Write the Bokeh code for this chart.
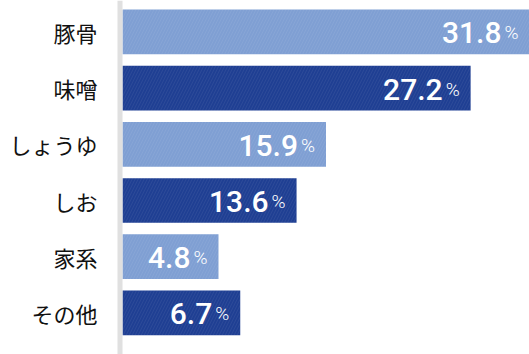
from bokeh.plotting import figure
from bokeh.models import Range1d, Span, ColumnDataSource
from bokeh.core.properties import value
from bokeh.embed import file_html
from bokeh.resources import INLINE

categories = ["豚骨", "味噌", "しょうゆ", "しお", "家系", "その他"]
values = [31.8, 27.2, 15.9, 13.6, 4.8, 6.7]
# bar lengths as drawn in the reference (small bars are widened to fit their labels)
drawn_len = [31.8, 27.2, 15.9, 13.6, 7.5, 9.2]
colors = ["#7f9fd3", "#1f3f93", "#7f9fd3", "#1f3f93", "#7f9fd3", "#1f3f93"]

W, H = 529, 354
left_px = 122
k = max(drawn_len) / (W - left_px)       # data units per pixel (x)
pitch = 56.2                              # pixels per category (y)
top_off = 31.4

p = figure(width=W, height=H, output_backend="svg", toolbar_location=None,
           min_border=0, x_range=Range1d(-left_px * k, max(drawn_len)),
           y_range=Range1d((H - top_off) / pitch, -top_off / pitch))
p.axis.visible = False
p.grid.visible = False
p.outline_line_color = None
p.background_fill_color = "white"
p.border_fill_color = "white"

idx = list(range(len(categories)))
src = ColumnDataSource(dict(
    y=idx, right=drawn_len, color=colors,
    num=[f"{v:.1f}" for v in values],
    cat=categories,
    xnum=[d - 28 * k for d in drawn_len],
    xpct=[d - 25 * k for d in drawn_len],
    ybase=[i + 1 / pitch for i in idx],
))

p.hbar(y="y", left=0, right="right", height=44.7 / pitch, fill_color="color",
       line_color=None, source=src, hatch_pattern="/", hatch_color="white",
       hatch_alpha=0.1, hatch_scale=6, hatch_weight=0.6)

p.add_layout(Span(location=-2.5 * k, dimension="height", line_color="#e0e0e0",
                  line_width=5))

p.text(x="xnum", y="ybase", text="num", source=src, text_color="white",
       text_font=value("'Roboto Medium', Roboto"), text_font_size="30px",
       text_font_style="normal",
       text_align="right", text_baseline="alphabetic")
p.text(x="xpct", y="ybase", text=value("%"), source=src, text_color="white",
       text_font=value("'Roboto Light', Roboto"), text_font_size="19px",
       text_font_style="normal",
       text_align="left", text_baseline="alphabetic")
p.text(x=-25 * k, y="y", text="cat", source=src, text_color="#111111",
       text_font=value("Noto Sans CJK JP"), text_font_size="22px",
       text_align="right", text_baseline="middle")

open("out.html", "w").write(file_html(p, INLINE))
